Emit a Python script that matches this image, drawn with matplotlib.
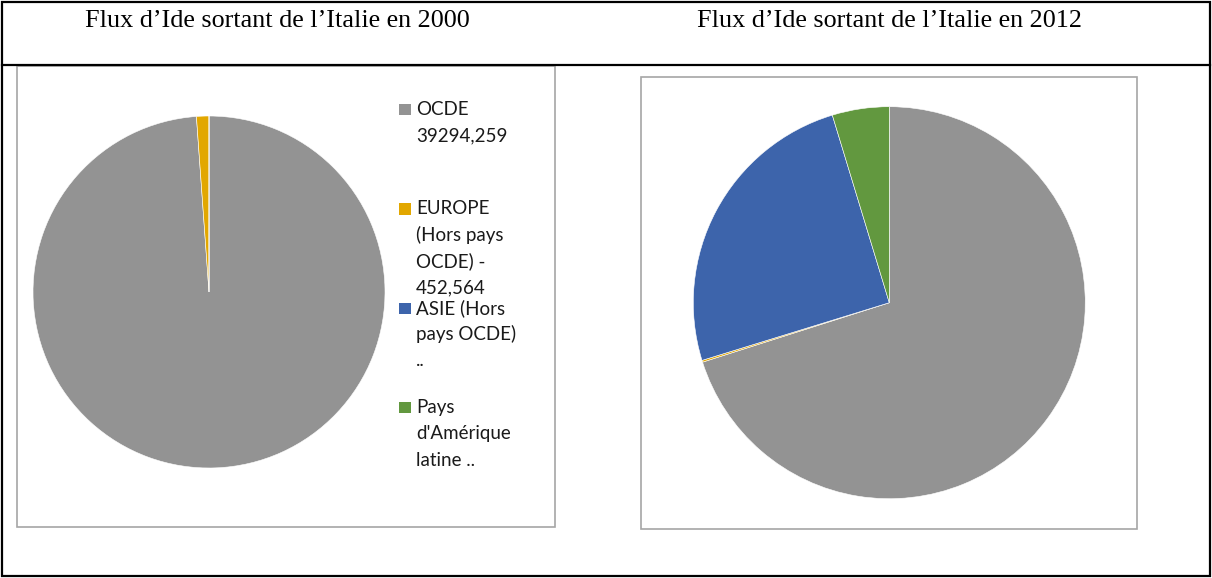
import matplotlib
matplotlib.use("Agg")
import matplotlib.pyplot as plt
from matplotlib.patches import Rectangle
from matplotlib.lines import Line2D

# ---- data ----
categories = ["OCDE", "EUROPE (Hors pays OCDE)", "ASIE (Hors pays OCDE)", "Pays d'Amérique latine"]
legend_labels = ["OCDE\n39294,259", "EUROPE\n(Hors pays\nOCDE) -\n452,564",
                 "ASIE (Hors\npays OCDE)\n..", "Pays\nd'Amérique\nlatine .."]
values_2000 = [39294.259, 452.564, 0.0, 0.0]
values_2012 = [70.2, 0.15, 25.1, 4.7]   # shares (%)
colors = ["#939393", "#E2A700", "#3D64AB", "#62983F"]
titles = ["Flux d\u2019Ide sortant de l\u2019Italie en 2000",
          "Flux d\u2019Ide sortant de l\u2019Italie en 2012"]

W, H = 1212, 578
fig = plt.figure(figsize=(W / 100, H / 100), dpi=100)


def fx(x):
    return x / W


def fy(y):
    return 1 - y / H


def px_rect(x0, y0, x1, y1, **kw):
    r = Rectangle((fx(x0), fy(y1)), fx(x1) - fx(x0), fy(y0) - fy(y1),
                  transform=fig.transFigure, fill=False, **kw)
    fig.add_artist(r)


# outer table border and divider
px_rect(2, 1.5, 1210, 576, edgecolor="black", linewidth=1.6)
fig.add_artist(Line2D([fx(2), fx(1210)], [fy(65), fy(65)], transform=fig.transFigure,
                      color="black", linewidth=1.6))

# titles
fig.text(fx(277.5), fy(27.3), titles[0], ha="center", va="baseline",
         family="Liberation Serif", fontsize=18.8)
fig.text(fx(890), fy(27.3), titles[1], ha="center", va="baseline",
         family="Liberation Serif", fontsize=18.8)

# chart frames
px_rect(16.5, 66, 555, 527, edgecolor="#A6A6A6", linewidth=1.2)
px_rect(641, 77, 1137, 529, edgecolor="#A6A6A6", linewidth=1.2)


def pie_axes(cx, cy, r):
    return fig.add_axes([fx(cx - r), fy(cy + r), (2 * r) / W, (2 * r) / H])


# 2000 pie
ax1 = pie_axes(209, 292, 176)
ax1.pie(values_2000, colors=colors, startangle=90, counterclock=False, radius=1,
        wedgeprops=dict(edgecolor="white", linewidth=0.4))
ax1.set_xlim(-1, 1)
ax1.set_ylim(-1, 1)
ax1.axis("off")

# 2012 pie
ax2 = pie_axes(889.3, 302.7, 196)
ax2.pie(values_2012, colors=colors, startangle=90, counterclock=False, radius=1,
        wedgeprops=dict(edgecolor="white", linewidth=0.4))
ax2.set_xlim(-1, 1)
ax2.set_ylim(-1, 1)
ax2.axis("off")

# legend for 2000 chart
y_first = 101.7
step = 99.4
for i, (lab, col) in enumerate(zip(legend_labels, colors)):
    ytop = y_first + i * step
    sq = Rectangle((fx(399), fy(ytop + 13.5)), 11.5 / W, 11.5 / H,
                   transform=fig.transFigure, facecolor=col, edgecolor="none")
    fig.add_artist(sq)
    for j, line in enumerate(lab.split("\n")):
        fig.text(fx(416), fy(ytop + 13.3 + j * 26.2), line, ha="left", va="baseline",
                 family="Lato", fontsize=13.5, color="#1a1a1a")

fig.savefig("out.png", dpi=100)
